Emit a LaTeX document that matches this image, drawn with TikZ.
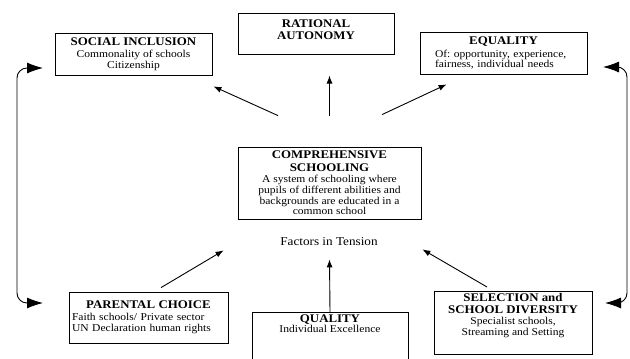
\documentclass[tikz,border=0pt]{standalone}
\usepackage{fontspec}
\setmainfont[FakeStretch=1.1]{Liberation Serif}
\usetikzlibrary{arrows.meta,calc}
\frenchspacing

\newcommand\hd{\fontsize{11.7}{12}\selectfont\bfseries}
\newcommand\bd{\fontsize{10.5}{10.8}\selectfont}

\tikzset{
	box/.style={draw, line width=0.8pt, inner sep=2pt, align=center, font=\bd},
	arr/.style={line width=0.9pt, -{Latex[length=8pt,width=6pt]}},
	sidearr/.style={line width=0.9pt, rounded corners=10pt, {Latex[length=16pt,width=11pt]}-{Latex[length=16pt,width=11pt]}},
}

\begin{document}
\begin{tikzpicture}[x=1pt,y=-1pt]
	\useasboundingbox (0,0) rectangle (630,359);

	\node[box, minimum width=157pt, minimum height=42pt] (social) at (133.5,54) {{\hd SOCIAL INCLUSION}\\[1.5pt]Commonality of schools\\Citizenship};
	\node[box, anchor=north, minimum width=156pt, inner ysep=6pt, text depth=9pt, font=\hd] (rational) at (316,13) {RATIONAL\\AUTONOMY};
	\node[box, minimum width=167pt, minimum height=42pt, text width=137pt, align=left] (equality) at (503.5,53) {\makebox[\linewidth]{\hd EQUALITY}\\[2pt]Of: opportunity, experience,\\fairness, individual needs};

	\node[box, minimum width=183pt, minimum height=72pt] (comp) at (329.5,183) {{\hd COMPREHENSIVE}\\[1.5pt]{\hd SCHOOLING}\\[0.5pt]A system of schooling where\\pupils of different abilities and\\backgrounds are educated in a\\common school};
	\node[font=\fontsize{12}{12}\selectfont] (tension) at (329,242) {Factors in Tension};

	\node[box, minimum width=159pt, minimum height=51pt, text width=153pt, inner xsep=3pt, align=left] (parental) at (148.5,317.5) {\makebox[\linewidth]{\hd PARENTAL CHOICE}\\[1pt]Faith schools/ Private sector\\UN Declaration human rights};
	\node[box, anchor=north, minimum width=156pt, text depth=30pt] (quality) at (330,312) {{\hd QUALITY}\\Individual Excellence};
	\node[box, anchor=north, minimum width=158pt, text depth=17pt] (selection) at (513,291) {{\hd SELECTION and}\\[1pt]{\hd SCHOOL DIVERSITY}\\[0.5pt]Specialist schools,\\Streaming and Setting};

	\draw[arr] ($(comp.north)+(-51.5,-31)$) -- ($(social.south east)+(1,11)$);
	\draw[arr] ($(comp.north)+(0,-31)$) -- ($(rational.south)+(13.5,21)$);
	\draw[arr] ($(comp.north)+(52.5,-32)$) -- ($(equality.south west)+(27,10)$);
	\draw[arr] ($(parental.north)+(12.5,-4)$) -- ($(comp.south west)+(-14,31)$);
	\draw[arr] (quality.north) -- ($(comp.south)+(0,40)$);
	\draw[arr] ($(selection.north)+(-26,-4)$) -- ($(comp.south east)+(1,30)$);

	\coordinate (lt) at (43,68);
	\coordinate (lb) at (43,303);
	\coordinate (rt) at (603,67);
	\coordinate (rb) at (605,303);
	\draw[sidearr] (lt) -- (17,68) -- (17,303) -- (lb);
	\draw[sidearr] (rt) -- (627,67) -- (627,303) -- (rb);
\end{tikzpicture}
\end{document}
